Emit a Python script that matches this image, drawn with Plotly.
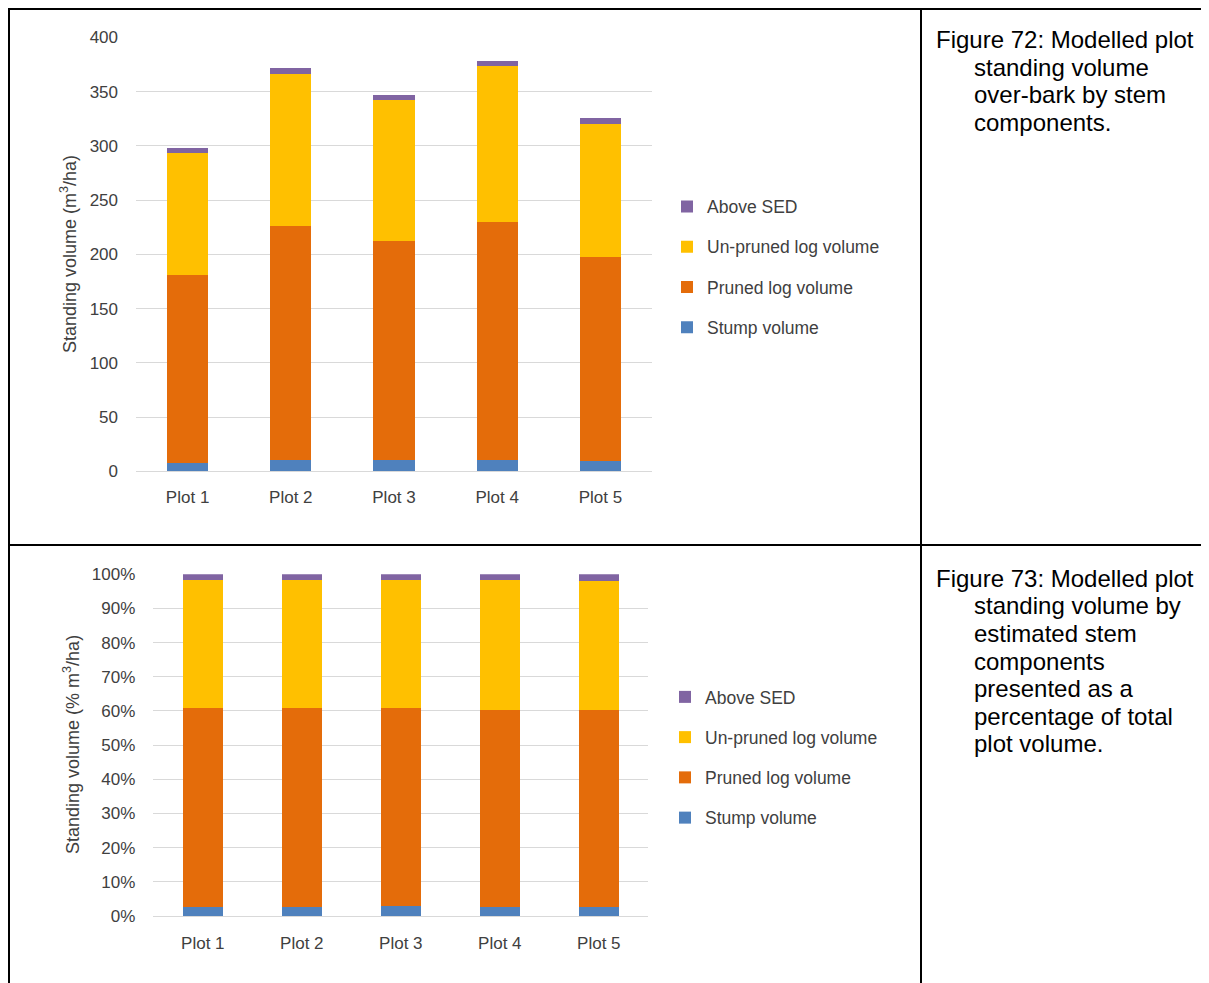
import plotly.graph_objects as go

# ---------------- data ----------------
plots = ["Plot 1", "Plot 2", "Plot 3", "Plot 4", "Plot 5"]
series_names = ["Stump volume", "Pruned log volume", "Un-pruned log volume", "Above SED"]
colors = ["#4F81BD", "#E46C0A", "#FFC000", "#8064A2"]

# Figure 72 – standing volume (m3/ha)
stump_vol = [8.0, 10.4, 10.4, 10.4, 9.3]
pruned_vol = [173.0, 215.4, 201.6, 219.0, 188.3]
unpruned_vol = [112.2, 140.7, 130.6, 144.2, 122.7]
above_sed_vol = [4.6, 5.5, 4.6, 4.9, 5.8]

# Figure 73 – share of total plot volume (%)
stump_pct = [2.5, 2.5, 3.0, 2.5, 2.5]
pruned_pct = [58.3, 58.3, 57.8, 57.9, 57.9]
unpruned_pct = [37.6, 37.6, 37.6, 38.0, 37.6]
above_sed_pct = [1.6, 1.6, 1.6, 1.6, 2.0]

y1_ticks = [0, 50, 100, 150, 200, 250, 300, 350, 400]
y2_ticks = [0, 10, 20, 30, 40, 50, 60, 70, 80, 90, 100]
y2_tick_labels = ["0%", "10%", "20%", "30%", "40%", "50%", "60%", "70%", "80%", "90%", "100%"]

caption1 = ["Figure 72: Modelled plot", "standing volume", "over-bark by stem", "components."]
caption2 = ["Figure 73: Modelled plot", "standing volume by", "estimated stem", "components",
            "presented as a", "percentage of total", "plot volume."]

# ---------------- geometry helpers (page pixels -> paper) ----------------
W, H = 1201, 975
OFF = 8


def px(X):
    return (X - OFF) / W


def py(Y):
    return 1 - (Y - OFF) / H


FONT = "Liberation Sans, Arial, sans-serif"
TXT = "#404040"
GRID = "#D9D9D9"

fig = go.Figure()

vol_sets = [stump_vol, pruned_vol, unpruned_vol, above_sed_vol]
pct_sets = [stump_pct, pruned_pct, unpruned_pct, above_sed_pct]

for i, (name, vals) in enumerate(zip(series_names, vol_sets)):
    fig.add_trace(go.Bar(x=plots, y=vals, name=name, marker_color=colors[i],
                         marker_line_width=0, xaxis="x", yaxis="y",
                         legend="legend", legendgroup=f"a{i}", legendrank=10 - i))
for i, (name, vals) in enumerate(zip(series_names, pct_sets)):
    fig.add_trace(go.Bar(x=plots, y=vals, name=name, marker_color=colors[i],
                         marker_line_width=0, xaxis="x2", yaxis="y2",
                         legend="legend2", legendgroup=f"b{i}", legendrank=10 - i))

axis_common = dict(showline=False, ticks="", automargin=False,
                   tickfont=dict(family=FONT, size=17, color=TXT))

LEG_FONT = dict(family=FONT, size=17.5, color=TXT)

fig.update_layout(
    width=W, height=H,
    margin=dict(l=0, r=0, t=0, b=0, pad=0, autoexpand=False),
    paper_bgcolor="white", plot_bgcolor="white",
    barmode="stack", bargap=0.6,
    font=dict(family=FONT, size=17, color=TXT),
    xaxis=dict(domain=[px(136), px(652)], anchor="y", ticklabelstandoff=14,
               showgrid=False, **axis_common),
    yaxis=dict(domain=[py(471.4), py(37.3)], anchor="x", range=[0, 400],
               tickvals=y1_ticks, showgrid=True, gridcolor=GRID, gridwidth=1,
               zeroline=True, zerolinecolor=GRID, zerolinewidth=1,
               ticklabelstandoff=17, **axis_common),
    xaxis2=dict(domain=[px(153.3), px(648.3)], anchor="y2", ticklabelstandoff=15,
                showgrid=False, **axis_common),
    yaxis2=dict(domain=[py(916), py(574.3)], anchor="x2", range=[0, 100],
                tickvals=y2_ticks, ticktext=y2_tick_labels, showgrid=True, gridcolor=GRID,
                gridwidth=1, zeroline=True, zerolinecolor=GRID, zerolinewidth=1,
                ticklabelstandoff=17, **axis_common),
    legend=dict(x=px(667), y=py(267), xanchor="left", yanchor="middle",
                traceorder="grouped", tracegroupgap=14.5,
                font=LEG_FONT, bgcolor="rgba(0,0,0,0)"),
    legend2=dict(x=px(665), y=py(757.5), xanchor="left", yanchor="middle",
                 traceorder="grouped", tracegroupgap=14.5,
                 font=LEG_FONT, bgcolor="rgba(0,0,0,0)"),
    showlegend=True,
)

# axis titles
fig.add_annotation(text="Standing volume (m<sup>3</sup>/ha)", xref="paper", yref="paper",
                   x=px(68), y=py(254), textangle=-90, showarrow=False,
                   font=dict(family=FONT, size=18, color=TXT), xanchor="center", yanchor="middle")
fig.add_annotation(text="Standing volume (% m<sup>3</sup>/ha)", xref="paper", yref="paper",
                   x=px(71), y=py(745), textangle=-90, showarrow=False,
                   font=dict(family=FONT, size=18, color=TXT), xanchor="center", yanchor="middle")

# captions
CAP_FONT = dict(family=FONT, size=24, color="#000000")
for k, line in enumerate(caption1):
    fig.add_annotation(text=line, xref="paper", yref="paper",
                       x=px(934 if k == 0 else 972), y=py(40 + 27.4 * k),
                       xanchor="left", yanchor="middle", showarrow=False, font=CAP_FONT)
for k, line in enumerate(caption2):
    fig.add_annotation(text=line, xref="paper", yref="paper",
                       x=px(934 if k == 0 else 972), y=py(578.3 + 27.6 * k),
                       xanchor="left", yanchor="middle", showarrow=False, font=CAP_FONT)

# table borders
border = dict(color="black", width=2)
fig.add_shape(type="line", xref="paper", yref="paper", x0=px(8), x1=px(1215), y0=py(9), y1=py(9), line=border)
fig.add_shape(type="line", xref="paper", yref="paper", x0=px(9), x1=px(9), y0=py(8), y1=py(990), line=border)
fig.add_shape(type="line", xref="paper", yref="paper", x0=px(921), x1=px(921), y0=py(8), y1=py(990), line=border)
fig.add_shape(type="line", xref="paper", yref="paper", x0=px(8), x1=px(1215), y0=py(545), y1=py(545), line=border)

fig.write_html("out.html")
